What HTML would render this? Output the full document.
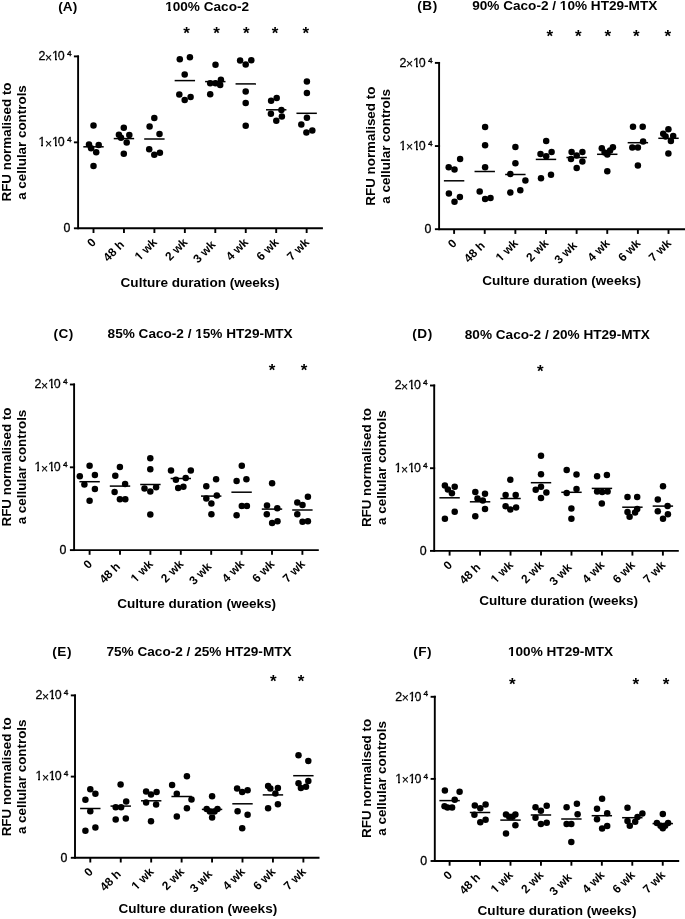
<!DOCTYPE html>
<html><head><meta charset="utf-8"><style>
html,body{margin:0;padding:0;background:#fff;}
svg{display:block;will-change:transform;}
text{font-family:"Liberation Sans", sans-serif;fill:#000;}
.lb{font-weight:bold;font-size:13.4px;}
.xtt{font-weight:bold;font-size:13.55px;}
.yt{font-size:12.4px;stroke:#000;stroke-width:0.3px;}
.sup{font-size:6.9px;stroke:#000;stroke-width:0.3px;}
.ytx{font-size:12.2px;stroke:#000;stroke-width:0.15px;}
.tt{font-weight:bold;font-size:13.6px;}
.xl{font-weight:bold;font-size:11.9px;}
.as{font-size:17px;font-weight:bold;}
</style></head><body>
<svg width="685" height="919" viewBox="0 0 685 919">
<rect width="685" height="919" fill="#fff"/>
<path d="M78.1 55.45V228.3H322.9" fill="none" stroke="#000" stroke-width="1.9" stroke-linecap="butt"/>
<line x1="73.9" y1="56.4" x2="79.05" y2="56.4" stroke="#000" stroke-width="1.9"/>
<line x1="73.9" y1="142.35" x2="79.05" y2="142.35" stroke="#000" stroke-width="1.9"/>
<line x1="73.9" y1="228.3" x2="79.05" y2="228.3" stroke="#000" stroke-width="1.9"/>
<line x1="93.5" y1="228.3" x2="93.5" y2="233" stroke="#000" stroke-width="1.9"/>
<line x1="123.95" y1="228.3" x2="123.95" y2="233" stroke="#000" stroke-width="1.9"/>
<line x1="154.4" y1="228.3" x2="154.4" y2="233" stroke="#000" stroke-width="1.9"/>
<line x1="184.85" y1="228.3" x2="184.85" y2="233" stroke="#000" stroke-width="1.9"/>
<line x1="215.3" y1="228.3" x2="215.3" y2="233" stroke="#000" stroke-width="1.9"/>
<line x1="245.75" y1="228.3" x2="245.75" y2="233" stroke="#000" stroke-width="1.9"/>
<line x1="276.2" y1="228.3" x2="276.2" y2="233" stroke="#000" stroke-width="1.9"/>
<line x1="306.65" y1="228.3" x2="306.65" y2="233" stroke="#000" stroke-width="1.9"/>
<text x="42" y="60.2" text-anchor="middle" class="yt">2</text>
<text x="48.55" y="61.7" text-anchor="middle" class="ytx">×</text>
<text x="55.4" y="60.2" text-anchor="middle" class="yt">1</text>
<text x="61.3" y="60.2" text-anchor="middle" class="yt">0</text>
<text transform="translate(69.2 56) scale(1.2 1)" text-anchor="middle" class="sup">4</text>
<text x="42" y="146.15" text-anchor="middle" class="yt">1</text>
<text x="48.55" y="147.65" text-anchor="middle" class="ytx">×</text>
<text x="55.4" y="146.15" text-anchor="middle" class="yt">1</text>
<text x="61.3" y="146.15" text-anchor="middle" class="yt">0</text>
<text transform="translate(69.2 141.95) scale(1.2 1)" text-anchor="middle" class="sup">4</text>
<text x="70.5" y="232.1" text-anchor="end" class="yt">0</text>
<text transform="translate(96.8 243.1) rotate(-45)" text-anchor="end" class="xl">0</text>
<text transform="translate(127.25 243.1) rotate(-45)" text-anchor="end" class="xl">48 h </text>
<text transform="translate(157.7 243.1) rotate(-45)" text-anchor="end" class="xl">1 wk</text>
<text transform="translate(188.15 243.1) rotate(-45)" text-anchor="end" class="xl">2 wk</text>
<text transform="translate(218.6 243.1) rotate(-45)" text-anchor="end" class="xl">3 wk </text>
<text transform="translate(249.05 243.1) rotate(-45)" text-anchor="end" class="xl">4 wk</text>
<text transform="translate(279.5 243.1) rotate(-45)" text-anchor="end" class="xl">6 wk</text>
<text transform="translate(309.95 243.1) rotate(-45)" text-anchor="end" class="xl">7 wk</text>
<text x="58.3" y="11.4" class="tt">(A)</text>
<text x="165.2" y="11" class="tt">100% Caco-2</text>
<text transform="translate(10.9 142) rotate(-90)" text-anchor="middle" class="lb">RFU normalised to</text>
<text transform="translate(26.1 142.5) rotate(-90)" text-anchor="middle" class="lb">a cellular controls</text>
<text x="200" y="286.8" text-anchor="middle" class="xtt">Culture duration (weeks)</text>
<text x="186.6" y="38.9" text-anchor="middle" class="as">*</text>
<text x="216.6" y="38.9" text-anchor="middle" class="as">*</text>
<text x="246.2" y="38.9" text-anchor="middle" class="as">*</text>
<text x="275.1" y="38.9" text-anchor="middle" class="as">*</text>
<text x="305.7" y="38.9" text-anchor="middle" class="as">*</text>
<circle cx="93.5" cy="125.5" r="3.25"/>
<circle cx="89" cy="144.5" r="3.25"/>
<circle cx="98.7" cy="145" r="3.25"/>
<circle cx="91.1" cy="148.2" r="3.25"/>
<circle cx="96.2" cy="152.3" r="3.25"/>
<circle cx="93.5" cy="166" r="3.25"/>
<line x1="83.3" y1="146.8" x2="103.7" y2="146.8" stroke="#000" stroke-width="1.5"/>
<circle cx="123.8" cy="127.8" r="3.25"/>
<circle cx="118.9" cy="134.7" r="3.25"/>
<circle cx="129.3" cy="135.1" r="3.25"/>
<circle cx="121" cy="137.8" r="3.25"/>
<circle cx="126.7" cy="142.5" r="3.25"/>
<circle cx="123.8" cy="153.7" r="3.25"/>
<line x1="113.75" y1="138.6" x2="134.15" y2="138.6" stroke="#000" stroke-width="1.5"/>
<circle cx="149.6" cy="126.4" r="3.25"/>
<circle cx="154.3" cy="117.9" r="3.25"/>
<circle cx="159.5" cy="133.9" r="3.25"/>
<circle cx="149.2" cy="149.2" r="3.25"/>
<circle cx="159.9" cy="152.7" r="3.25"/>
<circle cx="154.3" cy="154.7" r="3.25"/>
<line x1="144.2" y1="139" x2="164.6" y2="139" stroke="#000" stroke-width="1.5"/>
<circle cx="179.8" cy="59.2" r="3.25"/>
<circle cx="189.9" cy="57.3" r="3.25"/>
<circle cx="184.7" cy="74.6" r="3.25"/>
<circle cx="179.3" cy="94.4" r="3.25"/>
<circle cx="190.6" cy="97" r="3.25"/>
<circle cx="184.7" cy="100" r="3.25"/>
<line x1="174.65" y1="80.6" x2="195.05" y2="80.6" stroke="#000" stroke-width="1.5"/>
<circle cx="215.5" cy="64.8" r="3.25"/>
<circle cx="220.9" cy="79.7" r="3.25"/>
<circle cx="210.2" cy="83.2" r="3.25"/>
<circle cx="215.5" cy="83.2" r="3.25"/>
<circle cx="220.2" cy="85.1" r="3.25"/>
<circle cx="210.2" cy="94.2" r="3.25"/>
<line x1="205.1" y1="81.6" x2="225.5" y2="81.6" stroke="#000" stroke-width="1.5"/>
<circle cx="240.1" cy="60.6" r="3.25"/>
<circle cx="251.3" cy="60.3" r="3.25"/>
<circle cx="245.7" cy="64.5" r="3.25"/>
<circle cx="245.7" cy="91.4" r="3.25"/>
<circle cx="245.7" cy="103.1" r="3.25"/>
<circle cx="245.7" cy="125.7" r="3.25"/>
<line x1="235.55" y1="83.9" x2="255.95" y2="83.9" stroke="#000" stroke-width="1.5"/>
<circle cx="271.1" cy="100.7" r="3.25"/>
<circle cx="276.7" cy="97.9" r="3.25"/>
<circle cx="281.4" cy="110.1" r="3.25"/>
<circle cx="270.9" cy="113.8" r="3.25"/>
<circle cx="281.9" cy="116.6" r="3.25"/>
<circle cx="276.3" cy="120.8" r="3.25"/>
<line x1="266" y1="109.8" x2="286.4" y2="109.8" stroke="#000" stroke-width="1.5"/>
<circle cx="306.9" cy="81.6" r="3.25"/>
<circle cx="306.9" cy="93" r="3.25"/>
<circle cx="306.9" cy="117.8" r="3.25"/>
<circle cx="301.3" cy="124.6" r="3.25"/>
<circle cx="306.4" cy="132.5" r="3.25"/>
<circle cx="312.3" cy="130.6" r="3.25"/>
<line x1="296.45" y1="113.3" x2="316.85" y2="113.3" stroke="#000" stroke-width="1.5"/>
<path d="M439.1 61.95V229.2H686" fill="none" stroke="#000" stroke-width="1.9" stroke-linecap="butt"/>
<line x1="434.9" y1="62.9" x2="440.05" y2="62.9" stroke="#000" stroke-width="1.9"/>
<line x1="434.9" y1="146.05" x2="440.05" y2="146.05" stroke="#000" stroke-width="1.9"/>
<line x1="434.9" y1="229.2" x2="440.05" y2="229.2" stroke="#000" stroke-width="1.9"/>
<line x1="454.1" y1="229.2" x2="454.1" y2="233.9" stroke="#000" stroke-width="1.9"/>
<line x1="484.73" y1="229.2" x2="484.73" y2="233.9" stroke="#000" stroke-width="1.9"/>
<line x1="515.36" y1="229.2" x2="515.36" y2="233.9" stroke="#000" stroke-width="1.9"/>
<line x1="545.99" y1="229.2" x2="545.99" y2="233.9" stroke="#000" stroke-width="1.9"/>
<line x1="576.62" y1="229.2" x2="576.62" y2="233.9" stroke="#000" stroke-width="1.9"/>
<line x1="607.25" y1="229.2" x2="607.25" y2="233.9" stroke="#000" stroke-width="1.9"/>
<line x1="637.88" y1="229.2" x2="637.88" y2="233.9" stroke="#000" stroke-width="1.9"/>
<line x1="668.51" y1="229.2" x2="668.51" y2="233.9" stroke="#000" stroke-width="1.9"/>
<text x="403" y="66.7" text-anchor="middle" class="yt">2</text>
<text x="409.55" y="68.2" text-anchor="middle" class="ytx">×</text>
<text x="416.4" y="66.7" text-anchor="middle" class="yt">1</text>
<text x="422.3" y="66.7" text-anchor="middle" class="yt">0</text>
<text transform="translate(430.2 62.5) scale(1.2 1)" text-anchor="middle" class="sup">4</text>
<text x="403" y="149.85" text-anchor="middle" class="yt">1</text>
<text x="409.55" y="151.35" text-anchor="middle" class="ytx">×</text>
<text x="416.4" y="149.85" text-anchor="middle" class="yt">1</text>
<text x="422.3" y="149.85" text-anchor="middle" class="yt">0</text>
<text transform="translate(430.2 145.65) scale(1.2 1)" text-anchor="middle" class="sup">4</text>
<text x="431.5" y="233" text-anchor="end" class="yt">0</text>
<text transform="translate(457.4 244) rotate(-45)" text-anchor="end" class="xl">0</text>
<text transform="translate(488.03 244) rotate(-45)" text-anchor="end" class="xl">48 h </text>
<text transform="translate(518.66 244) rotate(-45)" text-anchor="end" class="xl">1 wk</text>
<text transform="translate(549.29 244) rotate(-45)" text-anchor="end" class="xl">2 wk</text>
<text transform="translate(579.92 244) rotate(-45)" text-anchor="end" class="xl">3 wk </text>
<text transform="translate(610.55 244) rotate(-45)" text-anchor="end" class="xl">4 wk</text>
<text transform="translate(641.18 244) rotate(-45)" text-anchor="end" class="xl">6 wk</text>
<text transform="translate(671.81 244) rotate(-45)" text-anchor="end" class="xl">7 wk</text>
<text x="417.2" y="9.6" class="tt" letter-spacing="0.55">(B)</text>
<text x="472.2" y="9.6" class="tt">90% Caco-2 / 10% HT29-MTX</text>
<text transform="translate(374.9 146.2) rotate(-90)" text-anchor="middle" class="lb">RFU normalised to</text>
<text transform="translate(390.1 146.4) rotate(-90)" text-anchor="middle" class="lb">a cellular controls</text>
<text x="561.6" y="285.4" text-anchor="middle" class="xtt">Culture duration (weeks)</text>
<text x="549.9" y="41.7" text-anchor="middle" class="as">*</text>
<text x="578.4" y="41.7" text-anchor="middle" class="as">*</text>
<text x="607.7" y="41.7" text-anchor="middle" class="as">*</text>
<text x="636.2" y="41.7" text-anchor="middle" class="as">*</text>
<text x="667.9" y="41.7" text-anchor="middle" class="as">*</text>
<circle cx="448.7" cy="167.3" r="3.25"/>
<circle cx="454.5" cy="169.4" r="3.25"/>
<circle cx="460.1" cy="159" r="3.25"/>
<circle cx="448.9" cy="193.6" r="3.25"/>
<circle cx="459.9" cy="196.9" r="3.25"/>
<circle cx="454.5" cy="201.7" r="3.25"/>
<line x1="443.9" y1="180.8" x2="464.3" y2="180.8" stroke="#000" stroke-width="1.5"/>
<circle cx="485.1" cy="127" r="3.25"/>
<circle cx="485.1" cy="145.2" r="3.25"/>
<circle cx="485.1" cy="167.3" r="3.25"/>
<circle cx="479.7" cy="191.5" r="3.25"/>
<circle cx="485.1" cy="199" r="3.25"/>
<circle cx="490.5" cy="198.1" r="3.25"/>
<line x1="474.53" y1="171.5" x2="494.93" y2="171.5" stroke="#000" stroke-width="1.5"/>
<circle cx="515.4" cy="147" r="3.25"/>
<circle cx="515.4" cy="163.2" r="3.25"/>
<circle cx="510.3" cy="174" r="3.25"/>
<circle cx="525.4" cy="180.5" r="3.25"/>
<circle cx="510.3" cy="192.6" r="3.25"/>
<circle cx="520.3" cy="190.2" r="3.25"/>
<line x1="505.16" y1="174.5" x2="525.56" y2="174.5" stroke="#000" stroke-width="1.5"/>
<circle cx="546.2" cy="141" r="3.25"/>
<circle cx="540.5" cy="154" r="3.25"/>
<circle cx="551.6" cy="152.1" r="3.25"/>
<circle cx="546.2" cy="156.2" r="3.25"/>
<circle cx="541" cy="178.3" r="3.25"/>
<circle cx="551" cy="174.8" r="3.25"/>
<line x1="535.79" y1="159.4" x2="556.19" y2="159.4" stroke="#000" stroke-width="1.5"/>
<circle cx="571.6" cy="151.9" r="3.25"/>
<circle cx="582.4" cy="151.9" r="3.25"/>
<circle cx="576.7" cy="155.4" r="3.25"/>
<circle cx="571" cy="158.9" r="3.25"/>
<circle cx="582.4" cy="161.6" r="3.25"/>
<circle cx="576.7" cy="168.1" r="3.25"/>
<line x1="566.42" y1="157.5" x2="586.82" y2="157.5" stroke="#000" stroke-width="1.5"/>
<circle cx="601.8" cy="148.3" r="3.25"/>
<circle cx="612.9" cy="147.2" r="3.25"/>
<circle cx="610.1" cy="150.4" r="3.25"/>
<circle cx="604.6" cy="152.4" r="3.25"/>
<circle cx="607.3" cy="154.5" r="3.25"/>
<circle cx="607.3" cy="171.2" r="3.25"/>
<line x1="597.05" y1="154.3" x2="617.45" y2="154.3" stroke="#000" stroke-width="1.5"/>
<circle cx="633" cy="126.8" r="3.25"/>
<circle cx="642.7" cy="126.8" r="3.25"/>
<circle cx="643.1" cy="141.4" r="3.25"/>
<circle cx="632.3" cy="147.6" r="3.25"/>
<circle cx="637.9" cy="147.6" r="3.25"/>
<circle cx="637.9" cy="165.6" r="3.25"/>
<line x1="627.68" y1="142.7" x2="648.08" y2="142.7" stroke="#000" stroke-width="1.5"/>
<circle cx="668.4" cy="129.3" r="3.25"/>
<circle cx="663.2" cy="133.7" r="3.25"/>
<circle cx="665.6" cy="136.5" r="3.25"/>
<circle cx="673.2" cy="136.1" r="3.25"/>
<circle cx="670.9" cy="141.1" r="3.25"/>
<circle cx="668.4" cy="153.4" r="3.25"/>
<line x1="658.31" y1="138.3" x2="678.71" y2="138.3" stroke="#000" stroke-width="1.5"/>
<path d="M74.1 383.55V550.1H318.8" fill="none" stroke="#000" stroke-width="1.9" stroke-linecap="butt"/>
<line x1="69.9" y1="384.5" x2="75.05" y2="384.5" stroke="#000" stroke-width="1.9"/>
<line x1="69.9" y1="467.3" x2="75.05" y2="467.3" stroke="#000" stroke-width="1.9"/>
<line x1="69.9" y1="550.1" x2="75.05" y2="550.1" stroke="#000" stroke-width="1.9"/>
<line x1="89.6" y1="550.1" x2="89.6" y2="554.8" stroke="#000" stroke-width="1.9"/>
<line x1="120" y1="550.1" x2="120" y2="554.8" stroke="#000" stroke-width="1.9"/>
<line x1="150.4" y1="550.1" x2="150.4" y2="554.8" stroke="#000" stroke-width="1.9"/>
<line x1="180.8" y1="550.1" x2="180.8" y2="554.8" stroke="#000" stroke-width="1.9"/>
<line x1="211.2" y1="550.1" x2="211.2" y2="554.8" stroke="#000" stroke-width="1.9"/>
<line x1="241.6" y1="550.1" x2="241.6" y2="554.8" stroke="#000" stroke-width="1.9"/>
<line x1="272" y1="550.1" x2="272" y2="554.8" stroke="#000" stroke-width="1.9"/>
<line x1="302.4" y1="550.1" x2="302.4" y2="554.8" stroke="#000" stroke-width="1.9"/>
<text x="38" y="388.3" text-anchor="middle" class="yt">2</text>
<text x="44.55" y="389.8" text-anchor="middle" class="ytx">×</text>
<text x="51.4" y="388.3" text-anchor="middle" class="yt">1</text>
<text x="57.3" y="388.3" text-anchor="middle" class="yt">0</text>
<text transform="translate(65.2 384.1) scale(1.2 1)" text-anchor="middle" class="sup">4</text>
<text x="38" y="471.1" text-anchor="middle" class="yt">1</text>
<text x="44.55" y="472.6" text-anchor="middle" class="ytx">×</text>
<text x="51.4" y="471.1" text-anchor="middle" class="yt">1</text>
<text x="57.3" y="471.1" text-anchor="middle" class="yt">0</text>
<text transform="translate(65.2 466.9) scale(1.2 1)" text-anchor="middle" class="sup">4</text>
<text x="66.5" y="553.9" text-anchor="end" class="yt">0</text>
<text transform="translate(92.9 564.9) rotate(-45)" text-anchor="end" class="xl">0</text>
<text transform="translate(123.3 564.9) rotate(-45)" text-anchor="end" class="xl">48 h </text>
<text transform="translate(153.7 564.9) rotate(-45)" text-anchor="end" class="xl">1 wk</text>
<text transform="translate(184.1 564.9) rotate(-45)" text-anchor="end" class="xl">2 wk</text>
<text transform="translate(214.5 564.9) rotate(-45)" text-anchor="end" class="xl">3 wk </text>
<text transform="translate(244.9 564.9) rotate(-45)" text-anchor="end" class="xl">4 wk</text>
<text transform="translate(275.3 564.9) rotate(-45)" text-anchor="end" class="xl">6 wk</text>
<text transform="translate(305.7 564.9) rotate(-45)" text-anchor="end" class="xl">7 wk</text>
<text x="53.4" y="337.8" class="tt" letter-spacing="0.55">(C)</text>
<text x="107.6" y="337.5" class="tt">85% Caco-2 / 15% HT29-MTX</text>
<text transform="translate(10.9 467) rotate(-90)" text-anchor="middle" class="lb">RFU normalised to</text>
<text transform="translate(26.1 467) rotate(-90)" text-anchor="middle" class="lb">a cellular controls</text>
<text x="196.7" y="607.8" text-anchor="middle" class="xtt">Culture duration (weeks)</text>
<text x="272.1" y="376" text-anchor="middle" class="as">*</text>
<text x="304" y="376" text-anchor="middle" class="as">*</text>
<circle cx="79.8" cy="476.3" r="3.25"/>
<circle cx="89.6" cy="465.8" r="3.25"/>
<circle cx="94.9" cy="475.1" r="3.25"/>
<circle cx="84.4" cy="484.5" r="3.25"/>
<circle cx="94.9" cy="489.1" r="3.25"/>
<circle cx="89.6" cy="500.8" r="3.25"/>
<line x1="79.4" y1="481.7" x2="99.8" y2="481.7" stroke="#000" stroke-width="1.5"/>
<circle cx="119.9" cy="466.9" r="3.25"/>
<circle cx="115.3" cy="475.8" r="3.25"/>
<circle cx="125.1" cy="484" r="3.25"/>
<circle cx="114.6" cy="491.9" r="3.25"/>
<circle cx="119.9" cy="499.2" r="3.25"/>
<circle cx="125.3" cy="499.2" r="3.25"/>
<line x1="109.8" y1="486.1" x2="130.2" y2="486.1" stroke="#000" stroke-width="1.5"/>
<circle cx="150.3" cy="458.3" r="3.25"/>
<circle cx="150.3" cy="469.3" r="3.25"/>
<circle cx="144.5" cy="488.4" r="3.25"/>
<circle cx="156.1" cy="487.3" r="3.25"/>
<circle cx="150.3" cy="491.5" r="3.25"/>
<circle cx="150.3" cy="514.4" r="3.25"/>
<line x1="140.2" y1="484.5" x2="160.6" y2="484.5" stroke="#000" stroke-width="1.5"/>
<circle cx="171" cy="470.4" r="3.25"/>
<circle cx="190.8" cy="470.4" r="3.25"/>
<circle cx="175.9" cy="479.7" r="3.25"/>
<circle cx="185.7" cy="478.1" r="3.25"/>
<circle cx="178.2" cy="487.9" r="3.25"/>
<circle cx="183.4" cy="486.7" r="3.25"/>
<line x1="170.6" y1="478.5" x2="191" y2="478.5" stroke="#000" stroke-width="1.5"/>
<circle cx="206.3" cy="486.3" r="3.25"/>
<circle cx="216.1" cy="479.2" r="3.25"/>
<circle cx="216.8" cy="495.6" r="3.25"/>
<circle cx="206.3" cy="498.4" r="3.25"/>
<circle cx="211.4" cy="503.5" r="3.25"/>
<circle cx="211.4" cy="514.3" r="3.25"/>
<line x1="201" y1="496.1" x2="221.4" y2="496.1" stroke="#000" stroke-width="1.5"/>
<circle cx="241.8" cy="465.7" r="3.25"/>
<circle cx="236.6" cy="480.9" r="3.25"/>
<circle cx="246.4" cy="479.2" r="3.25"/>
<circle cx="241.8" cy="505.9" r="3.25"/>
<circle cx="246.9" cy="505.9" r="3.25"/>
<circle cx="236.6" cy="515.2" r="3.25"/>
<line x1="231.4" y1="492.2" x2="251.8" y2="492.2" stroke="#000" stroke-width="1.5"/>
<circle cx="272.1" cy="483.2" r="3.25"/>
<circle cx="267" cy="505.4" r="3.25"/>
<circle cx="277.3" cy="508.2" r="3.25"/>
<circle cx="266.8" cy="514.3" r="3.25"/>
<circle cx="272.1" cy="522.9" r="3.25"/>
<circle cx="277.5" cy="521.3" r="3.25"/>
<line x1="261.8" y1="509.1" x2="282.2" y2="509.1" stroke="#000" stroke-width="1.5"/>
<circle cx="307.9" cy="496.8" r="3.25"/>
<circle cx="297.3" cy="502.6" r="3.25"/>
<circle cx="302.5" cy="504.9" r="3.25"/>
<circle cx="297.3" cy="514.3" r="3.25"/>
<circle cx="302.5" cy="521.8" r="3.25"/>
<circle cx="307.9" cy="521.3" r="3.25"/>
<line x1="292.2" y1="510" x2="312.6" y2="510" stroke="#000" stroke-width="1.5"/>
<path d="M434.2 384.55V550.9H678.8" fill="none" stroke="#000" stroke-width="1.9" stroke-linecap="butt"/>
<line x1="430" y1="385.5" x2="435.15" y2="385.5" stroke="#000" stroke-width="1.9"/>
<line x1="430" y1="468.2" x2="435.15" y2="468.2" stroke="#000" stroke-width="1.9"/>
<line x1="430" y1="550.9" x2="435.15" y2="550.9" stroke="#000" stroke-width="1.9"/>
<line x1="449.6" y1="550.9" x2="449.6" y2="555.6" stroke="#000" stroke-width="1.9"/>
<line x1="480.07" y1="550.9" x2="480.07" y2="555.6" stroke="#000" stroke-width="1.9"/>
<line x1="510.54" y1="550.9" x2="510.54" y2="555.6" stroke="#000" stroke-width="1.9"/>
<line x1="541.01" y1="550.9" x2="541.01" y2="555.6" stroke="#000" stroke-width="1.9"/>
<line x1="571.48" y1="550.9" x2="571.48" y2="555.6" stroke="#000" stroke-width="1.9"/>
<line x1="601.95" y1="550.9" x2="601.95" y2="555.6" stroke="#000" stroke-width="1.9"/>
<line x1="632.42" y1="550.9" x2="632.42" y2="555.6" stroke="#000" stroke-width="1.9"/>
<line x1="662.89" y1="550.9" x2="662.89" y2="555.6" stroke="#000" stroke-width="1.9"/>
<text x="398.1" y="389.3" text-anchor="middle" class="yt">2</text>
<text x="404.65" y="390.8" text-anchor="middle" class="ytx">×</text>
<text x="411.5" y="389.3" text-anchor="middle" class="yt">1</text>
<text x="417.4" y="389.3" text-anchor="middle" class="yt">0</text>
<text transform="translate(425.3 385.1) scale(1.2 1)" text-anchor="middle" class="sup">4</text>
<text x="398.1" y="472" text-anchor="middle" class="yt">1</text>
<text x="404.65" y="473.5" text-anchor="middle" class="ytx">×</text>
<text x="411.5" y="472" text-anchor="middle" class="yt">1</text>
<text x="417.4" y="472" text-anchor="middle" class="yt">0</text>
<text transform="translate(425.3 467.8) scale(1.2 1)" text-anchor="middle" class="sup">4</text>
<text x="426.6" y="554.7" text-anchor="end" class="yt">0</text>
<text transform="translate(452.9 565.7) rotate(-45)" text-anchor="end" class="xl">0</text>
<text transform="translate(483.37 565.7) rotate(-45)" text-anchor="end" class="xl">48 h </text>
<text transform="translate(513.84 565.7) rotate(-45)" text-anchor="end" class="xl">1 wk</text>
<text transform="translate(544.31 565.7) rotate(-45)" text-anchor="end" class="xl">2 wk</text>
<text transform="translate(574.78 565.7) rotate(-45)" text-anchor="end" class="xl">3 wk </text>
<text transform="translate(605.25 565.7) rotate(-45)" text-anchor="end" class="xl">4 wk</text>
<text transform="translate(635.72 565.7) rotate(-45)" text-anchor="end" class="xl">6 wk</text>
<text transform="translate(666.19 565.7) rotate(-45)" text-anchor="end" class="xl">7 wk</text>
<text x="412.2" y="337.9" class="tt" letter-spacing="0.55">(D)</text>
<text x="464.8" y="338.7" class="tt">80% Caco-2 / 20% HT29-MTX</text>
<text transform="translate(370.8 467.6) rotate(-90)" text-anchor="middle" class="lb">RFU normalised to</text>
<text transform="translate(386 467.6) rotate(-90)" text-anchor="middle" class="lb">a cellular controls</text>
<text x="558.7" y="604.6" text-anchor="middle" class="xtt">Culture duration (weeks)</text>
<text x="540.2" y="377" text-anchor="middle" class="as">*</text>
<circle cx="444.9" cy="485.6" r="3.25"/>
<circle cx="454.7" cy="486.8" r="3.25"/>
<circle cx="447.9" cy="489.6" r="3.25"/>
<circle cx="451.9" cy="493.3" r="3.25"/>
<circle cx="454.7" cy="511.8" r="3.25"/>
<circle cx="444.9" cy="518.8" r="3.25"/>
<line x1="439.4" y1="497.8" x2="459.8" y2="497.8" stroke="#000" stroke-width="1.5"/>
<circle cx="475.3" cy="491.9" r="3.25"/>
<circle cx="485" cy="493.7" r="3.25"/>
<circle cx="477.5" cy="498.4" r="3.25"/>
<circle cx="482.8" cy="500.4" r="3.25"/>
<circle cx="485" cy="509" r="3.25"/>
<circle cx="475.3" cy="516.3" r="3.25"/>
<line x1="469.87" y1="501.8" x2="490.27" y2="501.8" stroke="#000" stroke-width="1.5"/>
<circle cx="510.3" cy="479.8" r="3.25"/>
<circle cx="505.6" cy="495" r="3.25"/>
<circle cx="515.7" cy="495" r="3.25"/>
<circle cx="505.6" cy="506.2" r="3.25"/>
<circle cx="516.1" cy="507.4" r="3.25"/>
<circle cx="510.3" cy="509.5" r="3.25"/>
<line x1="500.34" y1="498.5" x2="520.74" y2="498.5" stroke="#000" stroke-width="1.5"/>
<circle cx="541" cy="455.7" r="3.25"/>
<circle cx="541" cy="474.3" r="3.25"/>
<circle cx="535.7" cy="489.8" r="3.25"/>
<circle cx="541" cy="486.7" r="3.25"/>
<circle cx="546.4" cy="492.6" r="3.25"/>
<circle cx="541" cy="497.9" r="3.25"/>
<line x1="530.81" y1="482.7" x2="551.21" y2="482.7" stroke="#000" stroke-width="1.5"/>
<circle cx="566.7" cy="469.9" r="3.25"/>
<circle cx="576.5" cy="474.6" r="3.25"/>
<circle cx="576.5" cy="489.1" r="3.25"/>
<circle cx="566.7" cy="493" r="3.25"/>
<circle cx="571.4" cy="508.4" r="3.25"/>
<circle cx="571.4" cy="518.7" r="3.25"/>
<line x1="561.28" y1="492.3" x2="581.68" y2="492.3" stroke="#000" stroke-width="1.5"/>
<circle cx="597.1" cy="476.2" r="3.25"/>
<circle cx="606.9" cy="475" r="3.25"/>
<circle cx="597.1" cy="491.4" r="3.25"/>
<circle cx="602.2" cy="491.9" r="3.25"/>
<circle cx="607.6" cy="491.4" r="3.25"/>
<circle cx="601.8" cy="503.5" r="3.25"/>
<line x1="591.75" y1="488.4" x2="612.15" y2="488.4" stroke="#000" stroke-width="1.5"/>
<circle cx="627.5" cy="496.9" r="3.25"/>
<circle cx="637.2" cy="496.9" r="3.25"/>
<circle cx="637.2" cy="508.9" r="3.25"/>
<circle cx="635.1" cy="512.4" r="3.25"/>
<circle cx="627.5" cy="512" r="3.25"/>
<circle cx="629.6" cy="516.8" r="3.25"/>
<line x1="622.22" y1="507.2" x2="642.62" y2="507.2" stroke="#000" stroke-width="1.5"/>
<circle cx="663" cy="486.3" r="3.25"/>
<circle cx="657.8" cy="499.6" r="3.25"/>
<circle cx="667.6" cy="506.1" r="3.25"/>
<circle cx="657.8" cy="511.2" r="3.25"/>
<circle cx="667.9" cy="514.3" r="3.25"/>
<circle cx="663" cy="518.7" r="3.25"/>
<line x1="652.69" y1="506.1" x2="673.09" y2="506.1" stroke="#000" stroke-width="1.5"/>
<path d="M75 694.45V857.8H319.5" fill="none" stroke="#000" stroke-width="1.9" stroke-linecap="butt"/>
<line x1="70.8" y1="695.4" x2="75.95" y2="695.4" stroke="#000" stroke-width="1.9"/>
<line x1="70.8" y1="776.6" x2="75.95" y2="776.6" stroke="#000" stroke-width="1.9"/>
<line x1="70.8" y1="857.8" x2="75.95" y2="857.8" stroke="#000" stroke-width="1.9"/>
<line x1="90.3" y1="857.8" x2="90.3" y2="862.5" stroke="#000" stroke-width="1.9"/>
<line x1="120.74" y1="857.8" x2="120.74" y2="862.5" stroke="#000" stroke-width="1.9"/>
<line x1="151.18" y1="857.8" x2="151.18" y2="862.5" stroke="#000" stroke-width="1.9"/>
<line x1="181.62" y1="857.8" x2="181.62" y2="862.5" stroke="#000" stroke-width="1.9"/>
<line x1="212.06" y1="857.8" x2="212.06" y2="862.5" stroke="#000" stroke-width="1.9"/>
<line x1="242.5" y1="857.8" x2="242.5" y2="862.5" stroke="#000" stroke-width="1.9"/>
<line x1="272.94" y1="857.8" x2="272.94" y2="862.5" stroke="#000" stroke-width="1.9"/>
<line x1="303.38" y1="857.8" x2="303.38" y2="862.5" stroke="#000" stroke-width="1.9"/>
<text x="38.9" y="699.2" text-anchor="middle" class="yt">2</text>
<text x="45.45" y="700.7" text-anchor="middle" class="ytx">×</text>
<text x="52.3" y="699.2" text-anchor="middle" class="yt">1</text>
<text x="58.2" y="699.2" text-anchor="middle" class="yt">0</text>
<text transform="translate(66.1 695) scale(1.2 1)" text-anchor="middle" class="sup">4</text>
<text x="38.9" y="780.4" text-anchor="middle" class="yt">1</text>
<text x="45.45" y="781.9" text-anchor="middle" class="ytx">×</text>
<text x="52.3" y="780.4" text-anchor="middle" class="yt">1</text>
<text x="58.2" y="780.4" text-anchor="middle" class="yt">0</text>
<text transform="translate(66.1 776.2) scale(1.2 1)" text-anchor="middle" class="sup">4</text>
<text x="67.4" y="861.6" text-anchor="end" class="yt">0</text>
<text transform="translate(93.6 872.6) rotate(-45)" text-anchor="end" class="xl">0</text>
<text transform="translate(124.04 872.6) rotate(-45)" text-anchor="end" class="xl">48 h </text>
<text transform="translate(154.48 872.6) rotate(-45)" text-anchor="end" class="xl">1 wk</text>
<text transform="translate(184.92 872.6) rotate(-45)" text-anchor="end" class="xl">2 wk</text>
<text transform="translate(215.36 872.6) rotate(-45)" text-anchor="end" class="xl">3 wk </text>
<text transform="translate(245.8 872.6) rotate(-45)" text-anchor="end" class="xl">4 wk</text>
<text transform="translate(276.24 872.6) rotate(-45)" text-anchor="end" class="xl">6 wk</text>
<text transform="translate(306.68 872.6) rotate(-45)" text-anchor="end" class="xl">7 wk</text>
<text x="52.2" y="655.5" class="tt" letter-spacing="0.55">(E)</text>
<text x="106.5" y="655.5" class="tt">75% Caco-2 / 25% HT29-MTX</text>
<text transform="translate(10.9 776.8) rotate(-90)" text-anchor="middle" class="lb">RFU normalised to</text>
<text transform="translate(26.3 776.8) rotate(-90)" text-anchor="middle" class="lb">a cellular controls</text>
<text x="197.8" y="913.2" text-anchor="middle" class="xtt">Culture duration (weeks)</text>
<text x="273.3" y="686.6" text-anchor="middle" class="as">*</text>
<text x="301" y="686.6" text-anchor="middle" class="as">*</text>
<circle cx="90.3" cy="789.3" r="3.25"/>
<circle cx="95.4" cy="793.8" r="3.25"/>
<circle cx="85.4" cy="799.8" r="3.25"/>
<circle cx="90.3" cy="811.3" r="3.25"/>
<circle cx="85.4" cy="830.7" r="3.25"/>
<circle cx="95.4" cy="827.6" r="3.25"/>
<line x1="80.1" y1="808.5" x2="100.5" y2="808.5" stroke="#000" stroke-width="1.5"/>
<circle cx="120.6" cy="784.6" r="3.25"/>
<circle cx="126.2" cy="801.5" r="3.25"/>
<circle cx="115.7" cy="807.3" r="3.25"/>
<circle cx="121.1" cy="807.3" r="3.25"/>
<circle cx="115.7" cy="819.5" r="3.25"/>
<circle cx="125.8" cy="818.5" r="3.25"/>
<line x1="110.54" y1="806.1" x2="130.94" y2="806.1" stroke="#000" stroke-width="1.5"/>
<circle cx="146.1" cy="791.4" r="3.25"/>
<circle cx="156.6" cy="792.1" r="3.25"/>
<circle cx="151" cy="794.5" r="3.25"/>
<circle cx="146.1" cy="802.6" r="3.25"/>
<circle cx="156.1" cy="804.5" r="3.25"/>
<circle cx="151" cy="821.3" r="3.25"/>
<line x1="140.98" y1="800.8" x2="161.38" y2="800.8" stroke="#000" stroke-width="1.5"/>
<circle cx="172.1" cy="785.1" r="3.25"/>
<circle cx="186.9" cy="776.2" r="3.25"/>
<circle cx="176.8" cy="793.7" r="3.25"/>
<circle cx="191.5" cy="799.6" r="3.25"/>
<circle cx="186.9" cy="808.2" r="3.25"/>
<circle cx="176.8" cy="816.4" r="3.25"/>
<line x1="171.42" y1="796.5" x2="191.82" y2="796.5" stroke="#000" stroke-width="1.5"/>
<circle cx="212.1" cy="796.2" r="3.25"/>
<circle cx="206.7" cy="808.9" r="3.25"/>
<circle cx="217.5" cy="808.9" r="3.25"/>
<circle cx="209.9" cy="811.5" r="3.25"/>
<circle cx="214.5" cy="811.5" r="3.25"/>
<circle cx="212.1" cy="817.4" r="3.25"/>
<line x1="201.86" y1="809.4" x2="222.26" y2="809.4" stroke="#000" stroke-width="1.5"/>
<circle cx="237.1" cy="788.4" r="3.25"/>
<circle cx="247.6" cy="790.2" r="3.25"/>
<circle cx="242.2" cy="791.9" r="3.25"/>
<circle cx="237.6" cy="811.2" r="3.25"/>
<circle cx="247.6" cy="814.7" r="3.25"/>
<circle cx="242.2" cy="828.3" r="3.25"/>
<line x1="232.3" y1="803.8" x2="252.7" y2="803.8" stroke="#000" stroke-width="1.5"/>
<circle cx="268.1" cy="786.1" r="3.25"/>
<circle cx="270.3" cy="788.5" r="3.25"/>
<circle cx="277.9" cy="788" r="3.25"/>
<circle cx="275.4" cy="793.4" r="3.25"/>
<circle cx="277.9" cy="804.2" r="3.25"/>
<circle cx="268.1" cy="808.2" r="3.25"/>
<line x1="262.74" y1="794.9" x2="283.14" y2="794.9" stroke="#000" stroke-width="1.5"/>
<circle cx="298.5" cy="755.2" r="3.25"/>
<circle cx="308.3" cy="761" r="3.25"/>
<circle cx="298.5" cy="783.2" r="3.25"/>
<circle cx="308.3" cy="780.9" r="3.25"/>
<circle cx="300.9" cy="787.9" r="3.25"/>
<circle cx="306" cy="786.7" r="3.25"/>
<line x1="293.18" y1="775.7" x2="313.58" y2="775.7" stroke="#000" stroke-width="1.5"/>
<path d="M434.8 695.85V861H679.2" fill="none" stroke="#000" stroke-width="1.9" stroke-linecap="butt"/>
<line x1="430.6" y1="696.8" x2="435.75" y2="696.8" stroke="#000" stroke-width="1.9"/>
<line x1="430.6" y1="778.9" x2="435.75" y2="778.9" stroke="#000" stroke-width="1.9"/>
<line x1="430.6" y1="861" x2="435.75" y2="861" stroke="#000" stroke-width="1.9"/>
<line x1="449.6" y1="861" x2="449.6" y2="865.7" stroke="#000" stroke-width="1.9"/>
<line x1="480.05" y1="861" x2="480.05" y2="865.7" stroke="#000" stroke-width="1.9"/>
<line x1="510.5" y1="861" x2="510.5" y2="865.7" stroke="#000" stroke-width="1.9"/>
<line x1="540.95" y1="861" x2="540.95" y2="865.7" stroke="#000" stroke-width="1.9"/>
<line x1="571.4" y1="861" x2="571.4" y2="865.7" stroke="#000" stroke-width="1.9"/>
<line x1="601.85" y1="861" x2="601.85" y2="865.7" stroke="#000" stroke-width="1.9"/>
<line x1="632.3" y1="861" x2="632.3" y2="865.7" stroke="#000" stroke-width="1.9"/>
<line x1="662.75" y1="861" x2="662.75" y2="865.7" stroke="#000" stroke-width="1.9"/>
<text x="398.7" y="700.6" text-anchor="middle" class="yt">2</text>
<text x="405.25" y="702.1" text-anchor="middle" class="ytx">×</text>
<text x="412.1" y="700.6" text-anchor="middle" class="yt">1</text>
<text x="418" y="700.6" text-anchor="middle" class="yt">0</text>
<text transform="translate(425.9 696.4) scale(1.2 1)" text-anchor="middle" class="sup">4</text>
<text x="398.7" y="782.7" text-anchor="middle" class="yt">1</text>
<text x="405.25" y="784.2" text-anchor="middle" class="ytx">×</text>
<text x="412.1" y="782.7" text-anchor="middle" class="yt">1</text>
<text x="418" y="782.7" text-anchor="middle" class="yt">0</text>
<text transform="translate(425.9 778.5) scale(1.2 1)" text-anchor="middle" class="sup">4</text>
<text x="427.2" y="864.8" text-anchor="end" class="yt">0</text>
<text transform="translate(452.9 875.8) rotate(-45)" text-anchor="end" class="xl">0</text>
<text transform="translate(483.35 875.8) rotate(-45)" text-anchor="end" class="xl">48 h </text>
<text transform="translate(513.8 875.8) rotate(-45)" text-anchor="end" class="xl">1 wk</text>
<text transform="translate(544.25 875.8) rotate(-45)" text-anchor="end" class="xl">2 wk</text>
<text transform="translate(574.7 875.8) rotate(-45)" text-anchor="end" class="xl">3 wk </text>
<text transform="translate(605.15 875.8) rotate(-45)" text-anchor="end" class="xl">4 wk</text>
<text transform="translate(635.6 875.8) rotate(-45)" text-anchor="end" class="xl">6 wk</text>
<text transform="translate(666.05 875.8) rotate(-45)" text-anchor="end" class="xl">7 wk</text>
<text x="413.2" y="655.5" class="tt" letter-spacing="0.55">(F)</text>
<text x="508" y="655.7" class="tt">100% HT29-MTX</text>
<text transform="translate(370.8 778.4) rotate(-90)" text-anchor="middle" class="lb">RFU normalised to</text>
<text transform="translate(386 778.4) rotate(-90)" text-anchor="middle" class="lb">a cellular controls</text>
<text x="557" y="915.3" text-anchor="middle" class="xtt">Culture duration (weeks)</text>
<text x="512.2" y="689.9" text-anchor="middle" class="as">*</text>
<text x="635.8" y="689.9" text-anchor="middle" class="as">*</text>
<text x="666.1" y="689.9" text-anchor="middle" class="as">*</text>
<circle cx="444.9" cy="790.5" r="3.25"/>
<circle cx="459.6" cy="791.8" r="3.25"/>
<circle cx="454.7" cy="799.7" r="3.25"/>
<circle cx="444.5" cy="806.3" r="3.25"/>
<circle cx="447.5" cy="807.6" r="3.25"/>
<circle cx="452.1" cy="807.6" r="3.25"/>
<line x1="439.4" y1="800.6" x2="459.8" y2="800.6" stroke="#000" stroke-width="1.5"/>
<circle cx="474.8" cy="805.6" r="3.25"/>
<circle cx="485.6" cy="804.6" r="3.25"/>
<circle cx="480.3" cy="808.2" r="3.25"/>
<circle cx="474.4" cy="814.8" r="3.25"/>
<circle cx="485.6" cy="819.7" r="3.25"/>
<circle cx="480.3" cy="822.3" r="3.25"/>
<line x1="469.85" y1="812.5" x2="490.25" y2="812.5" stroke="#000" stroke-width="1.5"/>
<circle cx="506" cy="814.4" r="3.25"/>
<circle cx="515.4" cy="814.4" r="3.25"/>
<circle cx="509.2" cy="816.8" r="3.25"/>
<circle cx="512.5" cy="816.8" r="3.25"/>
<circle cx="515.4" cy="825.3" r="3.25"/>
<circle cx="506" cy="833.6" r="3.25"/>
<line x1="500.3" y1="820.1" x2="520.7" y2="820.1" stroke="#000" stroke-width="1.5"/>
<circle cx="535.5" cy="807.3" r="3.25"/>
<circle cx="546.7" cy="805.7" r="3.25"/>
<circle cx="540.9" cy="810.8" r="3.25"/>
<circle cx="535.5" cy="817.8" r="3.25"/>
<circle cx="540.9" cy="823.9" r="3.25"/>
<circle cx="546.7" cy="822.7" r="3.25"/>
<line x1="530.75" y1="815" x2="551.15" y2="815" stroke="#000" stroke-width="1.5"/>
<circle cx="566.6" cy="807.3" r="3.25"/>
<circle cx="576.9" cy="803.8" r="3.25"/>
<circle cx="577.6" cy="814.3" r="3.25"/>
<circle cx="566.6" cy="823.9" r="3.25"/>
<circle cx="571.3" cy="823.9" r="3.25"/>
<circle cx="571.3" cy="841.9" r="3.25"/>
<line x1="561.2" y1="819" x2="581.6" y2="819" stroke="#000" stroke-width="1.5"/>
<circle cx="602.1" cy="798.7" r="3.25"/>
<circle cx="597" cy="808.7" r="3.25"/>
<circle cx="607.2" cy="813.2" r="3.25"/>
<circle cx="597" cy="819.2" r="3.25"/>
<circle cx="602.1" cy="828.6" r="3.25"/>
<circle cx="607.2" cy="826" r="3.25"/>
<line x1="591.65" y1="815.7" x2="612.05" y2="815.7" stroke="#000" stroke-width="1.5"/>
<circle cx="627.5" cy="807.8" r="3.25"/>
<circle cx="642.4" cy="813.6" r="3.25"/>
<circle cx="637.5" cy="817" r="3.25"/>
<circle cx="635.2" cy="821.8" r="3.25"/>
<circle cx="627.5" cy="821.1" r="3.25"/>
<circle cx="629.8" cy="825.7" r="3.25"/>
<line x1="622.1" y1="817.7" x2="642.5" y2="817.7" stroke="#000" stroke-width="1.5"/>
<circle cx="662.8" cy="813.9" r="3.25"/>
<circle cx="656.9" cy="823.1" r="3.25"/>
<circle cx="668.1" cy="823.1" r="3.25"/>
<circle cx="660.5" cy="825.7" r="3.25"/>
<circle cx="665.1" cy="825.7" r="3.25"/>
<circle cx="662.8" cy="828.2" r="3.25"/>
<line x1="652.55" y1="823.6" x2="672.95" y2="823.6" stroke="#000" stroke-width="1.5"/>
<rect x="51.87" y="57.27" width="3.13" height="4.33" fill="#fff"/><rect x="57.00" y="57.27" width="2.28" height="4.33" fill="#fff"/>
<rect x="38.47" y="143.22" width="2.53" height="4.33" fill="#fff"/><rect x="43.00" y="143.22" width="2.88" height="4.33" fill="#fff"/>
<rect x="51.87" y="143.22" width="3.13" height="4.33" fill="#fff"/><rect x="57.00" y="143.22" width="2.28" height="4.33" fill="#fff"/>
<g transform="translate(157.7 243.1) rotate(-45)"><rect x="-25.83" y="-2.67" width="2.82" height="3.92" fill="#fff"/><rect x="-21.38" y="-2.67" width="2.55" height="3.92" fill="#fff"/></g>
<rect x="165.15" y="7.96" width="2.85" height="4.29" fill="#fff"/><rect x="171.00" y="7.96" width="2.14" height="4.29" fill="#fff"/>
<rect x="412.87" y="63.77" width="3.13" height="4.33" fill="#fff"/><rect x="418.00" y="63.77" width="2.28" height="4.33" fill="#fff"/>
<rect x="399.47" y="146.92" width="2.53" height="4.33" fill="#fff"/><rect x="404.00" y="146.92" width="2.88" height="4.33" fill="#fff"/>
<rect x="412.87" y="146.92" width="3.13" height="4.33" fill="#fff"/><rect x="418.00" y="146.92" width="2.28" height="4.33" fill="#fff"/>
<g transform="translate(518.66 244) rotate(-45)"><rect x="-25.83" y="-2.67" width="2.82" height="3.92" fill="#fff"/><rect x="-21.38" y="-2.67" width="2.55" height="3.92" fill="#fff"/></g>
<rect x="559.79" y="6.56" width="3.21" height="4.29" fill="#fff"/><rect x="565.00" y="6.56" width="2.78" height="4.29" fill="#fff"/>
<rect x="47.87" y="385.37" width="3.13" height="4.33" fill="#fff"/><rect x="53.00" y="385.37" width="2.28" height="4.33" fill="#fff"/>
<rect x="34.47" y="468.17" width="2.53" height="4.33" fill="#fff"/><rect x="39.00" y="468.17" width="2.88" height="4.33" fill="#fff"/>
<rect x="47.87" y="468.17" width="3.13" height="4.33" fill="#fff"/><rect x="53.00" y="468.17" width="2.28" height="4.33" fill="#fff"/>
<g transform="translate(153.7 564.9) rotate(-45)"><rect x="-25.83" y="-2.67" width="2.82" height="3.92" fill="#fff"/><rect x="-21.38" y="-2.67" width="2.55" height="3.92" fill="#fff"/></g>
<rect x="195.19" y="334.46" width="2.81" height="4.29" fill="#fff"/><rect x="201.00" y="334.46" width="2.18" height="4.29" fill="#fff"/>
<rect x="407.97" y="386.37" width="3.03" height="4.33" fill="#fff"/><rect x="413.00" y="386.37" width="2.38" height="4.33" fill="#fff"/>
<rect x="394.57" y="469.07" width="2.43" height="4.33" fill="#fff"/><rect x="399.00" y="469.07" width="2.98" height="4.33" fill="#fff"/>
<rect x="407.97" y="469.07" width="3.03" height="4.33" fill="#fff"/><rect x="413.00" y="469.07" width="2.38" height="4.33" fill="#fff"/>
<g transform="translate(513.84 565.7) rotate(-45)"><rect x="-25.83" y="-2.67" width="2.82" height="3.92" fill="#fff"/><rect x="-21.38" y="-2.67" width="2.55" height="3.92" fill="#fff"/></g>
<rect x="48.77" y="696.27" width="2.23" height="4.33" fill="#fff"/><rect x="54.00" y="696.27" width="2.18" height="4.33" fill="#fff"/>
<rect x="35.37" y="777.47" width="2.63" height="4.33" fill="#fff"/><rect x="40.00" y="777.47" width="2.78" height="4.33" fill="#fff"/>
<rect x="48.77" y="777.47" width="2.23" height="4.33" fill="#fff"/><rect x="54.00" y="777.47" width="2.18" height="4.33" fill="#fff"/>
<g transform="translate(154.48 872.6) rotate(-45)"><rect x="-25.83" y="-2.67" width="2.82" height="3.92" fill="#fff"/><rect x="-21.38" y="-2.67" width="2.55" height="3.92" fill="#fff"/></g>
<rect x="408.57" y="697.67" width="2.43" height="4.33" fill="#fff"/><rect x="413.00" y="697.67" width="2.98" height="4.33" fill="#fff"/>
<rect x="395.17" y="779.77" width="2.83" height="4.33" fill="#fff"/><rect x="400.00" y="779.77" width="2.58" height="4.33" fill="#fff"/>
<rect x="408.57" y="779.77" width="2.43" height="4.33" fill="#fff"/><rect x="413.00" y="779.77" width="2.98" height="4.33" fill="#fff"/>
<g transform="translate(513.8 875.8) rotate(-45)"><rect x="-25.83" y="-2.67" width="2.82" height="3.92" fill="#fff"/><rect x="-21.38" y="-2.67" width="2.55" height="3.92" fill="#fff"/></g>
<rect x="507.95" y="652.66" width="3.05" height="4.29" fill="#fff"/><rect x="513.00" y="652.66" width="2.94" height="4.29" fill="#fff"/>
</svg>
</body></html>
